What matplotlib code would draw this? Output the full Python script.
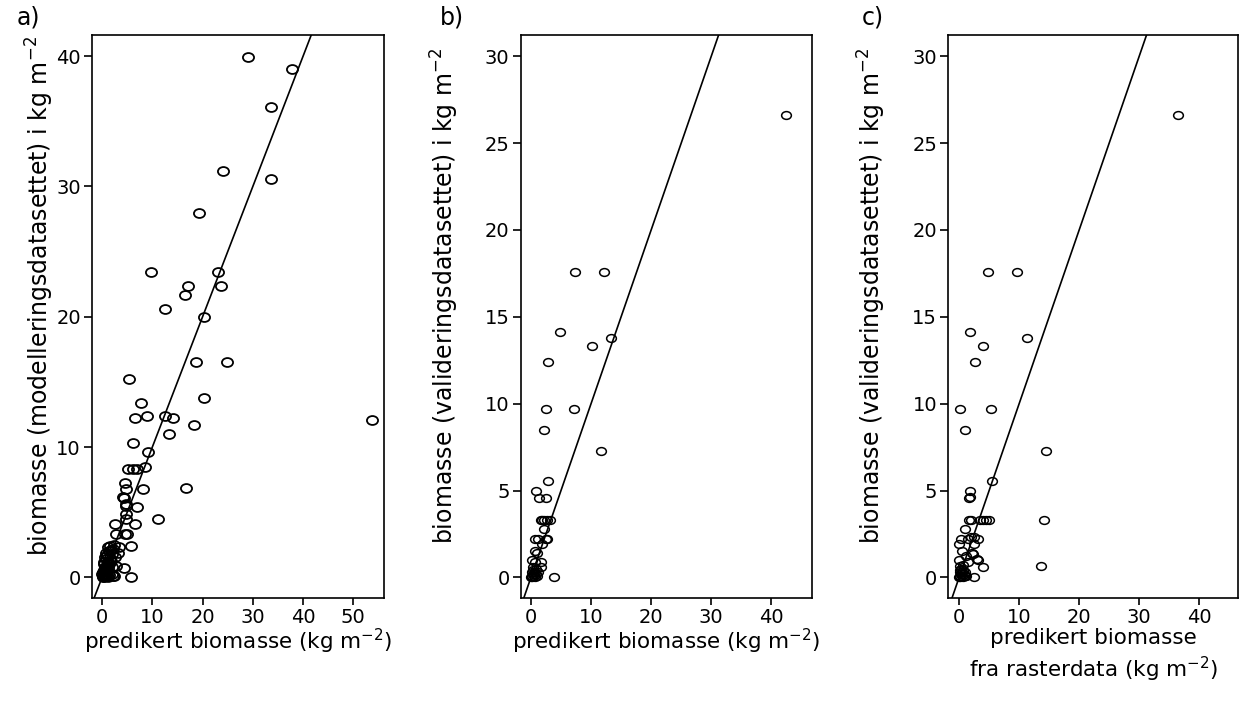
import numpy as np
import matplotlib
matplotlib.use('Agg')
import matplotlib.pyplot as plt
from matplotlib.path import Path

# a) modelleringsdatasettet
xa = [29.1, 37.7, 33.6, 24.0, 33.6, 19.3, 9.7, 23.0, 17.2, 23.7, 16.6, 12.6, 20.3,
      18.7, 24.8, 5.4, 20.3, 7.8, 6.6, 9.0, 12.6, 14.1, 18.3, 53.8, 13.3, 6.2, 9.1,
      5.1, 6.1, 7.0, 8.5, 4.6, 4.8, 8.1, 16.7, 4.3, 4.8, 7.0, 4.8, 4.8, 11.1, 2.6,
      6.6, 2.8, 4.6, 5.0, 5.7, 4.4, 5.7, 4.2, 4.7, 3.4, 2.2, 2.7,
      0.1, 0.2, 0.3, 0.4, 0.5, 0.6, 0.2, 0.3, 0.7, 0.8, 1.0, 0.5, 0.9, 1.2, 0.4, 1.1,
      1.4, 0.7, 1.5, 1.0, 1.8, 0.8, 1.3, 1.7, 2.0, 1.1, 1.6, 2.2, 2.4, 0.6, 1.9, 2.0,
      1.4, 0.3, 2.6, 3.2, 1.2, 2.3, 0.9, 0.0]
ya = [39.9, 39.0, 36.1, 31.2, 30.6, 28.0, 23.4, 23.4, 22.4, 22.4, 21.7, 20.6, 20.0,
      16.5, 16.5, 15.2, 13.8, 13.4, 12.2, 12.4, 12.4, 12.2, 11.7, 12.1, 11.0, 10.3, 9.65,
      8.3, 8.3, 8.3, 8.45, 7.25, 6.8, 6.8, 6.9, 6.1, 5.5, 5.4, 4.9, 4.5, 4.5, 4.1,
      4.1, 3.3, 3.3, 3.3, 2.4, 0.7, 0.0, 6.2, 5.6, 2.3, 0.1, 0.9,
      0.0, 0.1, 0.0, 0.2, 0.1, 0.3, 0.4, 0.6, 0.5, 0.2, 0.4, 0.8, 0.9, 0.7, 1.0, 1.2,
      1.0, 1.4, 1.5, 1.7, 1.3, 1.9, 2.0, 2.1, 1.8, 2.3, 2.4, 2.2, 2.5, 1.6, 0.8, 0.3,
      0.2, 1.2, 1.6, 1.9, 0.0, 0.1, 0.1, 0.3]

# b) valideringsdatasettet
xb = [42.45, 7.3, 12.15, 4.8, 10.2, 13.4, 2.9, 2.5, 7.2, 2.2, 11.7, 2.8, 0.9, 1.4,
      2.5, 1.6, 1.8, 2.1, 2.7, 3.2, 2.1, 0.6, 1.2, 2.5, 2.7, 1.8, 0.7, 1.0, 0.2,
      0.6, 1.6, 1.7, 3.9,
      0.0, 0.1, 0.2, 0.3, 0.5, 0.6, 0.4, 0.8, 1.0, 0.2, 0.7, 1.2, 0.9, 0.3]
yb = [26.6, 17.56, 17.56, 14.1, 13.3, 13.8, 12.4, 9.7, 9.7, 8.5, 7.3, 5.56, 4.95, 4.6,
      4.6, 3.3, 3.3, 3.3, 3.3, 3.3, 2.8, 2.2, 2.2, 2.2, 2.2, 1.9, 1.5, 1.4, 1.0,
      0.9, 0.9, 0.6, 0.0,
      0.0, 0.1, 0.0, 0.2, 0.1, 0.3, 0.4, 0.2, 0.1, 0.3, 0.0, 0.3, 0.5, 0.6]

# c) valideringsdatasettet mot rasterdata
xc = [36.4, 4.8, 9.7, 1.8, 3.9, 11.3, 2.6, 0.2, 5.3, 0.9, 14.4, 5.5, 1.8, 1.7,
      1.8, 1.7, 1.9, 3.4, 3.9, 4.4, 5.0, 14.2, 1.05, 0.3, 1.4, 2.05, 2.4, 3.2, 0.0,
      0.45, 2.1, 2.55, 0.0, 1.55, 3.1, 3.9, 13.7, 2.4, 0.2, 0.6, 1.2, 2.3, 3.0,
      0.0, 0.1, 0.2, 0.3, 0.4, 0.5, 0.2, 0.6, 0.8, 0.9, 1.0, 0.3, 0.7, 1.2, 0.1]
yc = [26.6, 17.56, 17.56, 14.1, 13.3, 13.8, 12.4, 9.7, 9.7, 8.5, 7.3, 5.56, 4.95, 4.6,
      4.65, 3.3, 3.3, 3.3, 3.3, 3.3, 3.3, 3.3, 2.8, 2.2, 2.2, 2.3, 2.3, 2.2, 1.9,
      1.5, 1.4, 1.9, 1.0, 0.9, 1.0, 0.6, 0.65, 0.0, 0.65, 0.7, 1.25, 1.34, 1.05,
      0.0, 0.1, 0.0, 0.2, 0.1, 0.3, 0.4, 0.0, 0.2, 0.1, 0.3, 0.5, 0.4, 0.1, 0.3]

# litt flattrykte sirkler som i originalen
circ = Path.unit_circle()
oval = Path(circ.vertices * np.array([1.25, 1.0]), circ.codes)

W, H = 1243, 709
fig = plt.figure(figsize=(W / 100, H / 100), dpi=100)

def px(x0, y0, w, h):
    # piksler (fra øverst til venstre) -> figurkoordinater
    return [x0 / W, 1 - (y0 + h) / H, w / W, h / H]

panels = [
    dict(x=xa, y=ya, rect=px(92, 35.3, 292, 563),
         xlim=(-2.0, 56.1), ylim=(-1.6, 41.6), xt=range(0, 51, 10), yt=range(0, 41, 10),
         ylab=r'biomasse (modelleringsdatasettet) i kg m$^{-2}$', ylab_x=40,
         xlab=r'predikert biomasse (kg m$^{-2}$)', xlab_y=641,
         tag='a)', tag_x=17, ms=8, mew=1.3),
    dict(x=xb, y=yb, rect=px(520.7, 35.3, 291.6, 563),
         xlim=(-1.7, 46.8), ylim=(-1.2, 31.2), xt=range(0, 41, 10), yt=range(0, 31, 5),
         ylab=r'biomasse (valideringsdatasettet) i kg m$^{-2}$', ylab_x=445,
         xlab=r'predikert biomasse (kg m$^{-2}$)', xlab_y=641,
         tag='b)', tag_x=440, ms=7, mew=1.1),
    dict(x=xc, y=yc, rect=px(948.3, 35.3, 290, 563),
         xlim=(-1.8, 46.5), ylim=(-1.2, 31.2), xt=range(0, 41, 10), yt=range(0, 31, 5),
         ylab=r'biomasse (valideringsdatasettet) i kg m$^{-2}$', ylab_x=872,
         xlab='predikert biomasse\n' + r'fra rasterdata (kg m$^{-2}$)', xlab_y=656,
         tag='c)', tag_x=862, ms=7, mew=1.1),
]

for p in panels:
    ax = fig.add_axes(p['rect'])
    ax.plot(p['x'], p['y'], linestyle='none', marker=oval, markersize=p['ms'],
            markerfacecolor='none', markeredgecolor='black', markeredgewidth=p['mew'])
    # 1:1 linje
    ax.plot([-100, 100], [-100, 100], color='black', linewidth=1.2)
    ax.set_xlim(*p['xlim'])
    ax.set_ylim(*p['ylim'])
    ax.set_xticks(list(p['xt']))
    ax.set_yticks(list(p['yt']))
    for s in ax.spines.values():
        s.set_linewidth(1.2)
    ax.tick_params(axis='x', direction='out', length=5, width=1.2, labelsize=14, pad=2)
    ax.tick_params(axis='y', direction='out', length=6, width=1.2, labelsize=14, pad=2)

    cx = (p['rect'][0] + p['rect'][2] / 2)
    fig.text(cx, 1 - p['xlab_y'] / H, p['xlab'], fontsize=15.5, ha='center', va='center',
             linespacing=1.3)
    fig.text(p['ylab_x'] / W, 1 - 296 / H, p['ylab'], fontsize=17, rotation=90,
             ha='center', va='center')
    fig.text(p['tag_x'] / W, 1 - 17 / H, p['tag'], fontsize=17, ha='left', va='center')

fig.savefig('out.png', dpi=100)
